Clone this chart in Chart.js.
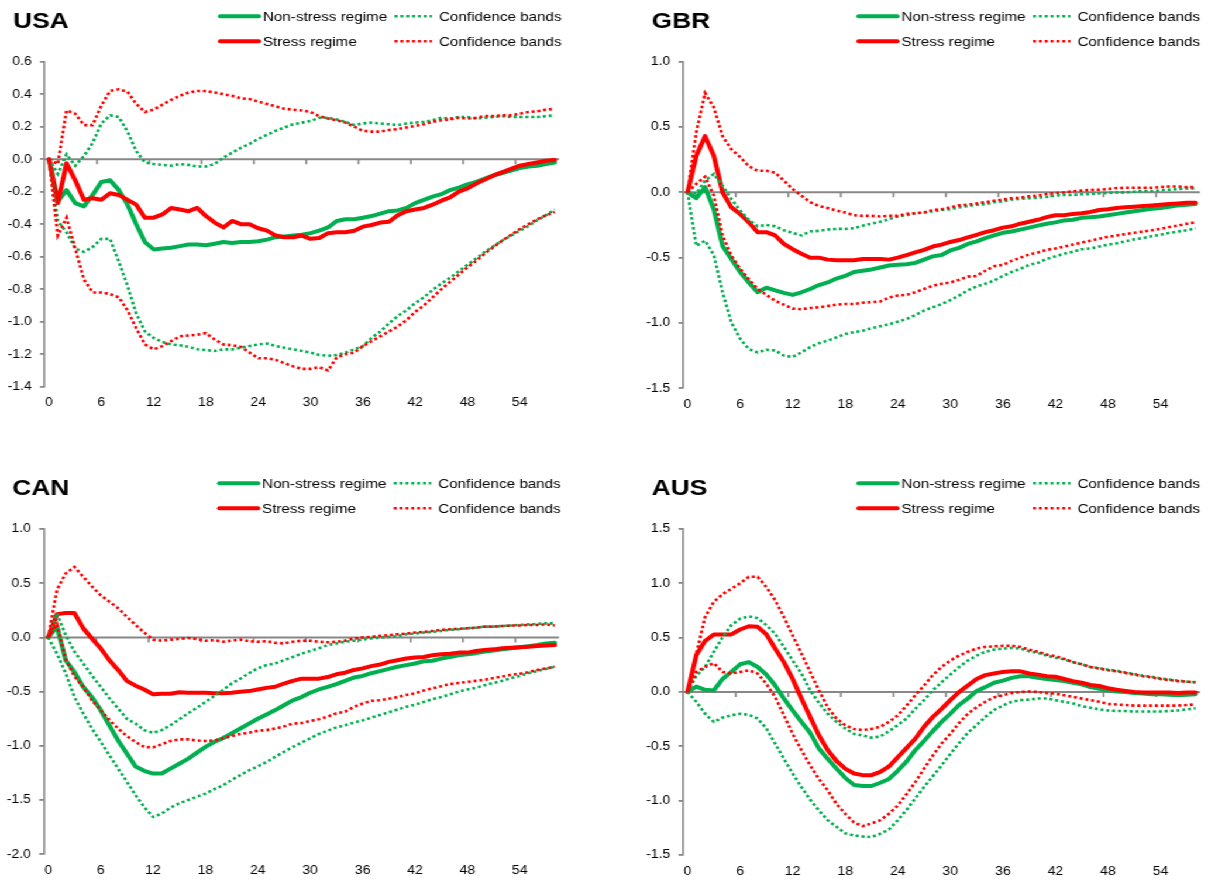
<!DOCTYPE html>
<html>
<head>
<meta charset="utf-8">
<title>Impulse responses: non-stress vs stress regime</title>
<script src="https://cdn.jsdelivr.net/npm/chart.js@4.4.1/dist/chart.umd.min.js"></script>
<style>
  html, body { margin: 0; padding: 0; background: #fff; }
  body { width: 1212px; height: 882px; overflow: hidden; position: relative; }
  /* the figure is laid out narrow and widened horizontally */
  #stage { position: absolute; left: 0; top: 0; width: 1036px; height: 882px;
           transform: scaleX(1.17); transform-origin: 0 0; }
  .panel { position: absolute; }
  .panel canvas { display: block; }
</style>
</head>
<body>
<div id="stage"></div>
<script>
// Horizon (months after the shock) and axis labelling
const horizons = Array.from({ length: 59 }, (_, i) => i);
const xTickLabels = [0, 6, 12, 18, 24, 30, 36, 42, 48, 54];
const xTickMarks = [5.5, 11.5, 17.5, 23.5, 29.5, 35.5, 41.5, 47.5, 53.5];
const legendLabels = ['Non-stress regime', 'Stress regime', 'Confidence bands'];

// USA
const usaNonStress = [0, -0.26, -0.19, -0.27, -0.29, -0.22, -0.14, -0.13, -0.19, -0.28,
  -0.40, -0.51, -0.555, -0.55, -0.545, -0.535, -0.525, -0.525, -0.53, -0.52,
  -0.51, -0.515, -0.51, -0.51, -0.505, -0.495, -0.48, -0.475, -0.47, -0.465,
  -0.455, -0.44, -0.42, -0.38, -0.37, -0.37, -0.36, -0.35, -0.335, -0.32,
  -0.315, -0.30, -0.27, -0.25, -0.23, -0.215, -0.19, -0.175, -0.155, -0.14,
  -0.12, -0.10, -0.085, -0.07, -0.055, -0.045, -0.04, -0.03, -0.02];
const usaStress = [0, -0.27, -0.025, -0.13, -0.25, -0.24, -0.25, -0.21, -0.22, -0.25,
  -0.28, -0.36, -0.36, -0.34, -0.30, -0.31, -0.32, -0.30, -0.35, -0.39,
  -0.42, -0.38, -0.40, -0.40, -0.425, -0.44, -0.47, -0.48, -0.48, -0.47,
  -0.49, -0.485, -0.455, -0.45, -0.45, -0.44, -0.415, -0.405, -0.39, -0.385,
  -0.345, -0.32, -0.31, -0.30, -0.28, -0.255, -0.235, -0.20, -0.18, -0.15,
  -0.125, -0.10, -0.08, -0.06, -0.04, -0.03, -0.02, -0.01, -0.005];
const usaNonStressUpper = [0, -0.09, 0.03, -0.04, 0.02, 0.10, 0.22, 0.27, 0.26, 0.17,
  0.05, -0.02, -0.03, -0.035, -0.04, -0.03, -0.035, -0.045, -0.045, -0.03,
  0.01, 0.04, 0.07, 0.095, 0.125, 0.15, 0.175, 0.195, 0.215, 0.225,
  0.235, 0.255, 0.255, 0.245, 0.23, 0.21, 0.22, 0.225, 0.22, 0.215,
  0.21, 0.22, 0.225, 0.23, 0.24, 0.255, 0.25, 0.26, 0.26, 0.25,
  0.255, 0.26, 0.265, 0.26, 0.26, 0.26, 0.26, 0.265, 0.27];
const usaNonStressLower = [0, -0.38, -0.45, -0.55, -0.57, -0.54, -0.49, -0.49, -0.63, -0.78,
  -0.95, -1.06, -1.10, -1.125, -1.14, -1.145, -1.155, -1.17, -1.175, -1.18,
  -1.17, -1.17, -1.16, -1.15, -1.14, -1.135, -1.15, -1.16, -1.17, -1.18,
  -1.19, -1.205, -1.21, -1.205, -1.19, -1.17, -1.15, -1.10, -1.06, -1.01,
  -0.965, -0.93, -0.885, -0.85, -0.805, -0.765, -0.73, -0.69, -0.65, -0.61,
  -0.57, -0.535, -0.50, -0.47, -0.44, -0.41, -0.375, -0.345, -0.31];
const usaStressUpper = [0, -0.03, 0.30, 0.28, 0.21, 0.21, 0.33, 0.42, 0.43, 0.415,
  0.34, 0.29, 0.305, 0.335, 0.365, 0.39, 0.41, 0.42, 0.42, 0.41,
  0.40, 0.39, 0.375, 0.37, 0.355, 0.34, 0.325, 0.31, 0.305, 0.30,
  0.29, 0.265, 0.25, 0.24, 0.225, 0.20, 0.175, 0.17, 0.17, 0.18,
  0.185, 0.195, 0.205, 0.215, 0.23, 0.24, 0.245, 0.255, 0.25, 0.255,
  0.265, 0.265, 0.27, 0.27, 0.28, 0.29, 0.295, 0.305, 0.31];
const usaStressLower = [0, -0.47, -0.36, -0.55, -0.74, -0.82, -0.82, -0.83, -0.85, -0.93,
  -1.04, -1.14, -1.17, -1.15, -1.12, -1.09, -1.085, -1.08, -1.07, -1.11,
  -1.14, -1.145, -1.155, -1.19, -1.225, -1.225, -1.235, -1.255, -1.275, -1.29,
  -1.29, -1.28, -1.30, -1.22, -1.20, -1.19, -1.15, -1.12, -1.09, -1.06,
  -1.03, -0.99, -0.94, -0.90, -0.85, -0.80, -0.755, -0.71, -0.665, -0.625,
  -0.58, -0.54, -0.50, -0.465, -0.43, -0.40, -0.37, -0.345, -0.325];

// GBR
const gbrNonStress = [0, -0.045, 0.04, -0.13, -0.41, -0.51, -0.61, -0.69, -0.765, -0.73,
  -0.75, -0.77, -0.785, -0.765, -0.74, -0.71, -0.69, -0.66, -0.64, -0.61,
  -0.60, -0.59, -0.575, -0.56, -0.555, -0.55, -0.54, -0.515, -0.49, -0.48,
  -0.445, -0.425, -0.395, -0.375, -0.35, -0.33, -0.31, -0.30, -0.285, -0.27,
  -0.255, -0.24, -0.23, -0.215, -0.21, -0.195, -0.19, -0.185, -0.175, -0.165,
  -0.155, -0.145, -0.135, -0.125, -0.12, -0.11, -0.10, -0.095, -0.09];
const gbrStress = [0, 0.28, 0.43, 0.28, 0.0, -0.115, -0.165, -0.23, -0.305, -0.305,
  -0.33, -0.395, -0.435, -0.47, -0.50, -0.50, -0.515, -0.52, -0.52, -0.52,
  -0.51, -0.51, -0.51, -0.515, -0.50, -0.48, -0.46, -0.44, -0.415, -0.40,
  -0.38, -0.365, -0.345, -0.325, -0.305, -0.29, -0.27, -0.26, -0.24, -0.225,
  -0.21, -0.19, -0.175, -0.175, -0.165, -0.16, -0.15, -0.135, -0.13, -0.12,
  -0.115, -0.11, -0.105, -0.10, -0.095, -0.09, -0.085, -0.08, -0.08];
const gbrNonStressUpper = [0, -0.01, 0.09, 0.14, 0.05, -0.05, -0.14, -0.21, -0.26, -0.25,
  -0.26, -0.29, -0.31, -0.33, -0.30, -0.295, -0.285, -0.28, -0.28, -0.275,
  -0.255, -0.24, -0.225, -0.205, -0.185, -0.175, -0.16, -0.155, -0.145, -0.135,
  -0.13, -0.115, -0.105, -0.095, -0.09, -0.075, -0.07, -0.055, -0.05, -0.045,
  -0.04, -0.035, -0.025, -0.02, -0.02, -0.015, -0.013, -0.008, -0.005, 0.0,
  0.0, 0.005, 0.01, 0.01, 0.015, 0.02, 0.025, 0.03, 0.03];
const gbrNonStressLower = [0, -0.41, -0.37, -0.48, -0.765, -0.995, -1.12, -1.20, -1.225, -1.205,
  -1.21, -1.25, -1.26, -1.225, -1.185, -1.155, -1.135, -1.11, -1.085, -1.07,
  -1.06, -1.04, -1.025, -1.01, -0.99, -0.97, -0.94, -0.905, -0.88, -0.855,
  -0.825, -0.79, -0.75, -0.72, -0.70, -0.675, -0.64, -0.61, -0.585, -0.555,
  -0.54, -0.51, -0.49, -0.47, -0.455, -0.435, -0.43, -0.415, -0.40, -0.39,
  -0.375, -0.36, -0.35, -0.335, -0.325, -0.31, -0.30, -0.29, -0.275];
const gbrStressUpper = [0, 0.46, 0.76, 0.65, 0.43, 0.33, 0.27, 0.20, 0.165, 0.165,
  0.15, 0.09, 0.025, -0.025, -0.075, -0.105, -0.12, -0.14, -0.155, -0.175,
  -0.18, -0.18, -0.185, -0.18, -0.18, -0.165, -0.16, -0.155, -0.135, -0.13,
  -0.115, -0.10, -0.095, -0.085, -0.075, -0.065, -0.055, -0.045, -0.04, -0.03,
  -0.025, -0.013, -0.005, 0.0, 0.008, 0.013, 0.018, 0.02, 0.025, 0.033,
  0.035, 0.035, 0.035, 0.035, 0.04, 0.045, 0.045, 0.04, 0.04];
const gbrStressLower = [0, 0.065, 0.12, -0.025, -0.33, -0.485, -0.585, -0.665, -0.74, -0.785,
  -0.83, -0.86, -0.89, -0.895, -0.885, -0.88, -0.87, -0.86, -0.855, -0.855,
  -0.845, -0.84, -0.835, -0.805, -0.79, -0.785, -0.765, -0.74, -0.715, -0.70,
  -0.69, -0.67, -0.645, -0.64, -0.60, -0.565, -0.555, -0.525, -0.50, -0.475,
  -0.46, -0.44, -0.43, -0.415, -0.40, -0.385, -0.37, -0.355, -0.34, -0.33,
  -0.32, -0.31, -0.30, -0.29, -0.28, -0.265, -0.255, -0.24, -0.23];

// CAN
const canNonStress = [0, 0.10, -0.21, -0.32, -0.455, -0.55, -0.67, -0.81, -0.95, -1.07,
  -1.19, -1.23, -1.255, -1.255, -1.21, -1.165, -1.12, -1.065, -1.01, -0.965,
  -0.93, -0.885, -0.84, -0.795, -0.75, -0.71, -0.67, -0.625, -0.58, -0.55,
  -0.51, -0.48, -0.455, -0.43, -0.40, -0.37, -0.355, -0.33, -0.31, -0.29,
  -0.27, -0.255, -0.24, -0.22, -0.215, -0.195, -0.18, -0.165, -0.155, -0.145,
  -0.13, -0.12, -0.11, -0.10, -0.09, -0.08, -0.07, -0.055, -0.05];
const canStress = [0, 0.215, 0.225, 0.225, 0.085, -0.01, -0.10, -0.21, -0.30, -0.40,
  -0.445, -0.48, -0.525, -0.52, -0.52, -0.505, -0.51, -0.51, -0.51, -0.515,
  -0.515, -0.51, -0.50, -0.495, -0.48, -0.465, -0.455, -0.425, -0.40, -0.38,
  -0.38, -0.38, -0.365, -0.34, -0.325, -0.30, -0.285, -0.265, -0.25, -0.225,
  -0.21, -0.195, -0.185, -0.18, -0.165, -0.155, -0.15, -0.14, -0.14, -0.125,
  -0.115, -0.11, -0.10, -0.095, -0.09, -0.085, -0.08, -0.075, -0.07];
const canNonStressUpper = [0, 0.22, 0.02, -0.13, -0.24, -0.35, -0.455, -0.56, -0.655, -0.75,
  -0.795, -0.855, -0.88, -0.855, -0.81, -0.755, -0.70, -0.65, -0.595, -0.54,
  -0.485, -0.425, -0.38, -0.33, -0.285, -0.255, -0.24, -0.21, -0.18, -0.15,
  -0.125, -0.10, -0.07, -0.055, -0.04, -0.03, -0.02, -0.01, 0.0, 0.005,
  0.01, 0.03, 0.035, 0.045, 0.05, 0.06, 0.07, 0.075, 0.085, 0.09,
  0.10, 0.10, 0.105, 0.11, 0.115, 0.12, 0.125, 0.13, 0.13];
const canNonStressLower = [0, -0.15, -0.33, -0.55, -0.70, -0.84, -0.96, -1.085, -1.21, -1.33,
  -1.455, -1.565, -1.655, -1.625, -1.57, -1.53, -1.50, -1.47, -1.44, -1.40,
  -1.365, -1.315, -1.27, -1.225, -1.19, -1.15, -1.10, -1.055, -1.01, -0.97,
  -0.93, -0.89, -0.86, -0.83, -0.81, -0.785, -0.765, -0.74, -0.715, -0.69,
  -0.665, -0.64, -0.62, -0.595, -0.57, -0.55, -0.525, -0.50, -0.48, -0.465,
  -0.44, -0.42, -0.40, -0.375, -0.355, -0.33, -0.31, -0.29, -0.27];
const canStressUpper = [0, 0.44, 0.59, 0.65, 0.56, 0.47, 0.39, 0.33, 0.27, 0.19,
  0.115, 0.045, -0.02, -0.03, -0.02, -0.015, -0.005, -0.015, -0.03, -0.025,
  -0.04, -0.03, -0.02, -0.035, -0.04, -0.035, -0.05, -0.055, -0.04, -0.03,
  -0.03, -0.04, -0.045, -0.04, -0.03, -0.01, 0.0, 0.005, 0.015, 0.02,
  0.03, 0.035, 0.045, 0.05, 0.06, 0.07, 0.075, 0.08, 0.085, 0.09,
  0.10, 0.10, 0.105, 0.11, 0.11, 0.115, 0.115, 0.12, 0.11];
const canStressLower = [0, 0.12, -0.20, -0.36, -0.455, -0.58, -0.67, -0.76, -0.84, -0.91,
  -0.965, -1.01, -1.015, -0.985, -0.955, -0.94, -0.94, -0.95, -0.955, -0.95,
  -0.93, -0.91, -0.89, -0.88, -0.86, -0.855, -0.84, -0.82, -0.795, -0.79,
  -0.77, -0.755, -0.73, -0.70, -0.685, -0.64, -0.61, -0.585, -0.58, -0.565,
  -0.55, -0.53, -0.515, -0.49, -0.47, -0.45, -0.43, -0.42, -0.41, -0.40,
  -0.39, -0.375, -0.36, -0.345, -0.335, -0.32, -0.30, -0.285, -0.27];

// AUS
const ausNonStress = [0, 0.05, 0.02, 0.015, 0.12, 0.185, 0.255, 0.275, 0.23, 0.16,
  0.06, -0.06, -0.17, -0.275, -0.375, -0.52, -0.615, -0.705, -0.79, -0.855,
  -0.865, -0.865, -0.835, -0.80, -0.725, -0.64, -0.535, -0.45, -0.36, -0.275,
  -0.20, -0.12, -0.06, 0.01, 0.045, 0.085, 0.105, 0.13, 0.145, 0.145,
  0.13, 0.12, 0.11, 0.10, 0.085, 0.07, 0.045, 0.03, 0.015, 0.005,
  0.0, -0.01, -0.015, -0.02, -0.02, -0.025, -0.03, -0.025, -0.02];
const ausStress = [0, 0.34, 0.47, 0.53, 0.53, 0.53, 0.575, 0.605, 0.60, 0.53,
  0.40, 0.275, 0.12, -0.06, -0.23, -0.40, -0.535, -0.635, -0.705, -0.75,
  -0.765, -0.765, -0.735, -0.685, -0.60, -0.515, -0.43, -0.32, -0.23, -0.155,
  -0.075, 0.0, 0.06, 0.12, 0.155, 0.17, 0.185, 0.19, 0.19, 0.17,
  0.16, 0.145, 0.14, 0.12, 0.10, 0.085, 0.065, 0.055, 0.035, 0.02,
  0.01, 0.0, -0.005, -0.005, -0.005, -0.005, -0.01, -0.005, -0.005];
const ausNonStressUpper = [0, 0.15, 0.23, 0.37, 0.505, 0.615, 0.675, 0.695, 0.68, 0.615,
  0.535, 0.415, 0.29, 0.17, 0.015, -0.10, -0.20, -0.275, -0.335, -0.385,
  -0.40, -0.42, -0.41, -0.36, -0.305, -0.245, -0.155, -0.075, 0.015, 0.09,
  0.16, 0.23, 0.29, 0.335, 0.37, 0.39, 0.40, 0.405, 0.40, 0.375,
  0.36, 0.335, 0.315, 0.30, 0.275, 0.255, 0.23, 0.22, 0.205, 0.195,
  0.18, 0.165, 0.15, 0.14, 0.125, 0.115, 0.105, 0.095, 0.09];
const ausNonStressLower = [0, -0.09, -0.20, -0.275, -0.235, -0.215, -0.20, -0.21, -0.245, -0.335,
  -0.475, -0.615, -0.75, -0.875, -0.99, -1.09, -1.18, -1.24, -1.30, -1.32,
  -1.33, -1.335, -1.305, -1.265, -1.18, -1.085, -0.98, -0.875, -0.775, -0.675,
  -0.57, -0.47, -0.375, -0.305, -0.23, -0.165, -0.125, -0.09, -0.075, -0.07,
  -0.06, -0.06, -0.075, -0.09, -0.105, -0.13, -0.145, -0.16, -0.17, -0.175,
  -0.175, -0.18, -0.18, -0.18, -0.18, -0.175, -0.17, -0.16, -0.15];
const ausStressUpper = [0, 0.35, 0.69, 0.83, 0.90, 0.95, 1.0, 1.06, 1.06, 0.965,
  0.845, 0.69, 0.52, 0.355, 0.185, 0.015, -0.14, -0.245, -0.305, -0.34,
  -0.35, -0.34, -0.32, -0.275, -0.215, -0.125, -0.03, 0.06, 0.155, 0.23,
  0.29, 0.335, 0.37, 0.40, 0.415, 0.42, 0.425, 0.425, 0.415, 0.39,
  0.37, 0.345, 0.33, 0.305, 0.275, 0.255, 0.23, 0.215, 0.20, 0.19,
  0.175, 0.16, 0.145, 0.135, 0.12, 0.11, 0.10, 0.095, 0.09];
const ausStressLower = [0, 0.185, 0.23, 0.265, 0.185, 0.17, 0.185, 0.20, 0.17, 0.075,
  -0.045, -0.215, -0.385, -0.535, -0.675, -0.80, -0.905, -1.03, -1.12, -1.20,
  -1.235, -1.21, -1.18, -1.12, -1.045, -0.94, -0.83, -0.705, -0.585, -0.475,
  -0.385, -0.285, -0.20, -0.14, -0.09, -0.05, -0.03, -0.01, 0.0, 0.005,
  0.0, -0.01, -0.015, -0.03, -0.045, -0.06, -0.075, -0.09, -0.11, -0.115,
  -0.12, -0.125, -0.125, -0.125, -0.125, -0.125, -0.125, -0.12, -0.115];

// ---- styling ----
const GREEN = '#00B050';
const RED = '#FF0000';
const AXIS = '#878787';
const FONT = "'Liberation Sans', Arial, Helvetica, sans-serif";
const Y_AXIS_W = 34;
const X_AXIS_H = 24;
const DOT = [2.6, 2.4];

Chart.defaults.font.family = FONT;
Chart.defaults.color = '#000';

// panel layout (stage coordinates) and value ranges
const panels = [
  { title: 'USA', rowTop: 0, rowH: 441,
    area: { left: 38.2, right: 477.8, top: 61.7, bottom: 386.7 },
    yMin: -1.4, yMax: 0.6, yStep: 0.2,
    series: [usaNonStress, usaStress, usaNonStressUpper, usaNonStressLower, usaStressUpper, usaStressLower] },
  { title: 'GBR', rowTop: 0, rowH: 441,
    area: { left: 583.9, right: 1025.6, top: 61.7, bottom: 388.3 },
    yMin: -1.5, yMax: 1.0, yStep: 0.5,
    series: [gbrNonStress, gbrStress, gbrNonStressUpper, gbrNonStressLower, gbrStressUpper, gbrStressLower] },
  { title: 'CAN', rowTop: 467, rowH: 415,
    area: { left: 37.5, right: 477.8, top: 529, bottom: 854.3 },
    yMin: -2.0, yMax: 1.0, yStep: 0.5,
    series: [canNonStress, canStress, canNonStressUpper, canNonStressLower, canStressUpper, canStressLower] },
  { title: 'AUS', rowTop: 467, rowH: 415,
    area: { left: 583.9, right: 1025.6, top: 529, bottom: 855 },
    yMin: -1.5, yMax: 1.5, yStep: 0.5,
    series: [ausNonStress, ausStress, ausNonStressUpper, ausNonStressLower, ausStressUpper, ausStressLower] }
];

// zero line with its tick marks, panel title and two-column legend
const panelDecor = {
  id: 'panelDecor',
  beforeDatasetsDraw(chart) {
    const { ctx, chartArea: a, scales: { x, y } } = chart;
    const y0 = y.getPixelForValue(0);
    ctx.save();
    ctx.strokeStyle = AXIS;
    ctx.lineWidth = 2;
    ctx.beginPath();
    ctx.moveTo(a.left, y0);
    ctx.lineTo(a.right, y0);
    ctx.stroke();
    ctx.lineWidth = 1.6;
    ctx.beginPath();
    xTickMarks.forEach(v => {
      const px = x.getPixelForValue(v);
      ctx.moveTo(px, y0);
      ctx.lineTo(px, y0 + 5);
    });
    ctx.stroke();
    ctx.restore();
  },
  afterDraw(chart, args, opts) {
    const { ctx, chartArea: a } = chart;
    ctx.save();
    ctx.fillStyle = '#000';
    ctx.textAlign = 'left';
    ctx.textBaseline = 'alphabetic';
    ctx.font = `bold 22.5px ${FONT}`;
    ctx.fillText(opts.title, a.left - 27, 27.6);

    const rows = [
      { y: 16.3, color: GREEN, label: legendLabels[0] },
      { y: 41.3, color: RED, label: legendLabels[1] }
    ];
    const lx = a.left - 5;
    ctx.font = `13px ${FONT}`;
    rows.forEach(r => {
      // solid sample
      ctx.strokeStyle = r.color;
      ctx.lineWidth = 4;
      ctx.lineCap = 'round';
      ctx.setLineDash([]);
      ctx.beginPath();
      ctx.moveTo(lx + 155, r.y);
      ctx.lineTo(lx + 188, r.y);
      ctx.stroke();
      ctx.fillText(r.label, lx + 191.5, r.y + 4.7);
      // dotted sample
      ctx.lineWidth = 2.6;
      ctx.lineCap = 'butt';
      ctx.setLineDash(DOT);
      ctx.beginPath();
      ctx.moveTo(lx + 304, r.y);
      ctx.lineTo(lx + 336, r.y);
      ctx.stroke();
      ctx.setLineDash([]);
      ctx.fillText(legendLabels[2], lx + 342, r.y + 4.7);
    });
    ctx.restore();
  }
};

function buildDatasets(series) {
  const [ns, st, nsU, nsL, stU, stL] = series;
  const solid = (data, color, order) => ({
    data, borderColor: color, backgroundColor: color, borderWidth: 4,
    pointRadius: 0, fill: false, tension: 0,
    borderJoinStyle: 'round', borderCapStyle: 'round', order
  });
  const dotted = (data, color, order) => ({
    data, borderColor: color, backgroundColor: color, borderWidth: 2.6,
    borderDash: DOT, pointRadius: 0, fill: false, tension: 0,
    borderCapStyle: 'butt', order
  });
  return [
    solid(ns, GREEN, 4),
    solid(st, RED, 3),
    dotted(nsU, GREEN, 2),
    dotted(nsL, GREEN, 2),
    dotted(stU, RED, 1),
    dotted(stL, RED, 1)
  ];
}

const fmt1 = v => (Math.abs(v) < 1e-9 ? 0 : v).toFixed(1);

const stage = document.getElementById('stage');
panels.forEach(p => {
  const divLeft = Math.round(p.area.left - 38);
  const divTop = p.rowTop;
  const divW = Math.ceil(p.area.right - divLeft + 8);
  const divH = p.rowH;

  const wrap = document.createElement('div');
  wrap.className = 'panel';
  wrap.style.left = divLeft + 'px';
  wrap.style.top = divTop + 'px';
  wrap.style.width = divW + 'px';
  wrap.style.height = divH + 'px';
  const cv = document.createElement('canvas');
  cv.width = divW;
  cv.height = divH;
  cv.style.width = divW + 'px';
  cv.style.height = divH + 'px';
  wrap.appendChild(cv);
  stage.appendChild(wrap);

  const pad = {
    left: p.area.left - divLeft - Y_AXIS_W,
    right: divW - (p.area.right - divLeft),
    top: p.area.top - divTop,
    bottom: divH - (p.area.bottom - divTop) - X_AXIS_H
  };

  new Chart(cv, {
    type: 'line',
    data: { labels: horizons, datasets: buildDatasets(p.series) },
    plugins: [panelDecor],
    options: {
      responsive: false,
      animation: false,
      devicePixelRatio: 1,
      events: [],
      layout: { padding: pad },
      plugins: {
        legend: { display: false },
        title: { display: false },
        tooltip: { enabled: false },
        panelDecor: { title: p.title }
      },
      scales: {
        x: {
          type: 'linear',
          min: -0.5,
          max: 58.5,
          afterBuildTicks: s => { s.ticks = xTickLabels.map(v => ({ value: v })); },
          afterFit: s => { s.height = X_AXIS_H; },
          grid: { display: false, drawTicks: false },
          border: { display: false },
          ticks: {
            autoSkip: false, maxRotation: 0, minRotation: 0, padding: 9,
            color: '#000', font: { size: 12 },
            callback: v => String(v)
          }
        },
        y: {
          min: p.yMin,
          max: p.yMax,
          afterFit: s => { s.width = Y_AXIS_W; },
          ticks: {
            stepSize: p.yStep, padding: 7, color: '#000', font: { size: 12 },
            callback: v => fmt1(v)
          },
          grid: { drawOnChartArea: false, drawTicks: true, tickLength: 4, color: AXIS, lineWidth: 1.8 },
          border: { display: true, color: AXIS, width: 1.6 }
        }
      }
    }
  });
});
</script>
</body>
</html>
